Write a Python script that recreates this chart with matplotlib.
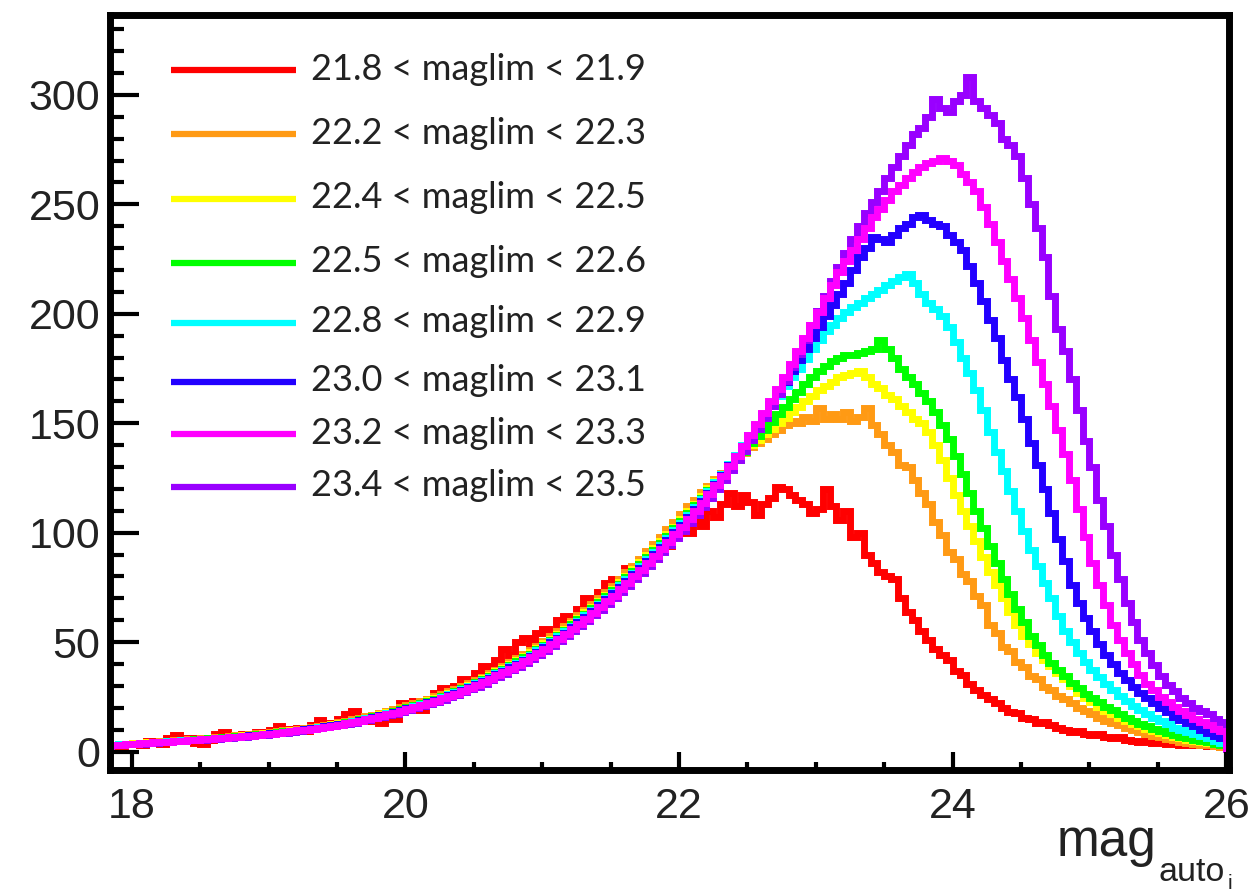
import numpy as np
import matplotlib
matplotlib.use("Agg")
import matplotlib.pyplot as plt
from matplotlib.lines import Line2D
from matplotlib.ticker import MultipleLocator

# ---------------- data ----------------
BIN_LO, BIN_HI = 17.85, 26.0
N_BINS = 163
edges = np.linspace(BIN_LO, BIN_HI, N_BINS + 1)

labels = ["21.8 < maglim < 21.9", "22.2 < maglim < 22.3", "22.4 < maglim < 22.5",
          "22.5 < maglim < 22.6", "22.8 < maglim < 22.9", "23.0 < maglim < 23.1",
          "23.2 < maglim < 23.3", "23.4 < maglim < 23.5"]

red = [3, 2.5, 3.5, 4, 3, 5, 4, 3.5, 6, 7.5,
       5, 6, 4, 3.5, 5.5, 8, 9, 7, 6.5, 8,
       7, 9, 8.5, 10, 11.5, 9, 10.5, 11, 9.5, 12,
       14.5, 12, 13, 15, 17, 18.5, 15, 14, 16.5, 13,
       18, 15, 22, 20, 23, 19, 24, 27, 29, 26,
       30, 33, 31, 36, 39, 37, 42, 47, 44, 50,
       52, 49, 54, 56, 53, 60, 62, 59, 65, 70,
       68, 73, 77, 79, 76, 84, 81, 87, 91, 88,
       97, 94, 99, 102, 100, 106, 103, 110, 107, 113,
       118, 112, 117, 114, 108, 113, 116, 121, 120, 117,
       115, 113, 109, 111, 120, 112, 106, 110, 98, 100,
       90, 86, 82, 80, 79, 70, 64, 60, 55, 51,
       47, 44, 42, 37, 35, 31, 28, 26, 24, 22,
       20, 18, 17.5, 15.5, 15, 13, 13.5, 12, 11, 10,
       9, 9.5, 8, 7.5, 8, 6.5, 6, 6.5, 5.5, 5,
       4.5, 5, 4, 4.2, 3.5, 3.8, 3.2, 3.5, 3, 2.8,
       2.6, 2.5, 2.3]

orange = [3.2, 3.4, 3.6, 3.9, 4.1, 4.3, 4.5, 4.8, 5.0, 5.2,
          5.4, 5.6, 5.9, 6.1, 6.4, 6.6, 6.9, 7.1, 7.4, 7.7,
          8.0, 8.3, 8.6, 8.9, 9.3, 9.7, 10.1, 10.5, 10.9, 11.4,
          11.8, 12.3, 12.8, 13.4, 14.0, 14.7, 15.4, 16.1, 16.9, 17.7,
          18.5, 19.3, 20.2, 21.1, 22.1, 23.1, 24.1, 25.2, 26.3, 27.5,
          28.7, 30.0, 31.4, 32.8, 34.3, 35.9, 37.5, 39.2, 40.9, 42.7,
          44.5, 46.4, 48.4, 50.5, 52.7, 55.0, 57.4, 59.8, 62.3, 64.8,
          67.4, 70.1, 72.9, 75.8, 78.8, 81.9, 85.0, 88.2, 91.5, 94.8,
          98.1, 101.5, 105.0, 108.5, 112.0, 115.0, 118.5, 121.5, 124.5, 127.5,
          130, 133.5, 136.5, 139, 141, 143, 145, 147, 149, 151,
          150, 153, 151, 157, 152, 154, 152, 155, 151, 153,
          157, 149, 145, 140, 137, 131, 130, 124, 118, 113,
          105, 99, 91, 88, 81, 78, 71, 67, 58, 54,
          48, 46, 41, 38.5, 34.5, 33, 29.5, 28, 25.5, 24,
          22, 20, 18.5, 17, 15.5, 14, 13, 12, 11, 10,
          9, 8, 7.2, 6.5, 5.8, 5.2, 4.6, 4.1, 3.6, 3.2,
          2.8, 2.5, 2.2]

yellow = [3.1, 3.3, 3.5, 3.8, 4.0, 4.2, 4.4, 4.6, 4.8, 5.0,
          5.2, 5.4, 5.7, 5.9, 6.1, 6.3, 6.6, 6.8, 7.1, 7.4,
          7.7, 8.0, 8.3, 8.6, 8.9, 9.3, 9.7, 10.1, 10.5, 11.0,
          11.4, 11.9, 12.4, 12.9, 13.5, 14.1, 14.8, 15.5, 16.3, 17.1,
          17.9, 18.7, 19.6, 20.5, 21.4, 22.4, 23.4, 24.4, 25.5, 26.7,
          27.9, 29.2, 30.5, 31.9, 33.4, 35.0, 36.6, 38.2, 39.9, 41.7,
          43.5, 45.3, 47.3, 49.4, 51.6, 53.9, 56.2, 58.6, 61.1, 63.6,
          66.2, 68.9, 71.7, 74.5, 77.4, 80.4, 83.4, 86.5, 89.7, 92.9,
          96.1, 99.4, 102.8, 106.2, 109.7, 113.2, 116.7, 120.2, 123.6, 126.8,
          129.5, 133.5, 137, 140, 142.5, 145, 147.5, 150, 152.5, 155,
          157.5, 160, 162.5, 165, 167, 169, 171, 172, 173, 174,
          171, 168, 166, 163, 161, 158, 155, 152, 150, 146,
          140, 133, 125, 117, 110, 103, 96, 89, 82, 76,
          70, 64, 58, 53, 49, 45, 42, 39, 36, 33,
          30, 27, 24.5, 22.5, 20.5, 18.5, 17, 15.5, 14, 12.5,
          11.5, 10.5, 9.5, 8.5, 7.6, 6.8, 6.1, 5.4, 4.8, 4.3,
          3.8, 3.3, 2.8]

green = [3.1, 3.3, 3.5, 3.7, 3.9, 4.1, 4.3, 4.5, 4.8, 5.0,
         5.2, 5.4, 5.6, 5.8, 6.0, 6.2, 6.5, 6.7, 7.0, 7.3,
         7.6, 7.9, 8.2, 8.5, 8.8, 9.2, 9.6, 10.0, 10.4, 10.8,
         11.3, 11.7, 12.2, 12.8, 13.4, 14.0, 14.7, 15.4, 16.1, 16.9,
         17.7, 18.5, 19.4, 20.3, 21.2, 22.1, 23.1, 24.1, 25.2, 26.4,
         27.6, 28.9, 30.2, 31.6, 33.1, 34.6, 36.2, 37.8, 39.5, 41.2,
         43.0, 44.8, 46.8, 48.9, 51.1, 53.4, 55.7, 58.1, 60.5, 63.0,
         65.6, 68.3, 71.0, 73.8, 76.7, 79.7, 82.7, 85.8, 88.9, 92.1,
         95.3, 98.6, 102.0, 105.4, 108.9, 112.5, 116.0, 119.5, 123.0, 126.5,
         129.5, 133, 137, 141, 144, 147, 150.5, 154, 157.5, 161,
         164.5, 168, 171, 174, 176, 178.5, 180, 181, 181, 182,
         183, 184, 188, 184, 180, 175, 171, 168, 164, 160,
         155, 149, 143, 135, 127, 118, 110, 102, 94, 86,
         79, 72, 65, 59, 53, 48.5, 44, 40.5, 37.5, 34.5,
         31.5, 29, 26.5, 24.5, 22.5, 20.5, 19, 17, 15.5, 14,
         12.5, 11.5, 10.5, 9.5, 8.5, 7.5, 6.8, 6.0, 5.4, 4.8,
         4.2, 3.6, 3.0]

cyan = [3.1, 3.3, 3.5, 3.7, 3.9, 4.1, 4.3, 4.5, 4.7, 4.9,
        5.1, 5.3, 5.5, 5.7, 5.9, 6.2, 6.4, 6.7, 6.9, 7.2,
        7.5, 7.8, 8.1, 8.4, 8.7, 9.1, 9.5, 9.9, 10.3, 10.7,
        11.1, 11.6, 12.1, 12.6, 13.2, 13.8, 14.5, 15.2, 15.9, 16.7,
        17.5, 18.3, 19.1, 20.0, 20.9, 21.8, 22.8, 23.8, 24.9, 26.1,
        27.3, 28.5, 29.8, 31.2, 32.7, 34.2, 35.7, 37.3, 39.0, 40.7,
        42.4, 44.2, 46.2, 48.3, 50.5, 52.7, 55.0, 57.4, 59.8, 62.3,
        64.9, 67.5, 70.2, 73.0, 75.9, 78.8, 81.8, 84.9, 88.0, 91.2,
        94.4, 97.7, 101.1, 104.5, 108.0, 111.6, 115.3, 119.1, 123.0, 127.0,
        131.2, 135.5, 140, 144.5, 149, 153.5, 158, 162.5, 167, 171,
        175, 179.5, 184, 188, 192, 195, 198, 201, 203, 205,
        207, 209, 211, 213, 215, 217, 218, 214, 209, 205,
        202, 199, 194, 187, 180, 173, 165, 156, 146, 137,
        128, 119, 110, 101, 92, 85, 77, 70, 62, 55,
        50, 45, 41, 37.5, 34, 31, 28, 25.5, 23, 21,
        19, 17, 15.5, 14, 12.5, 11, 10, 9, 8, 7,
        6, 5, 4]

blue = [3.0, 3.2, 3.4, 3.6, 3.8, 4.0, 4.2, 4.4, 4.6, 4.8,
        5.0, 5.2, 5.4, 5.6, 5.8, 6.1, 6.3, 6.6, 6.8, 7.1,
        7.4, 7.7, 8.0, 8.3, 8.6, 9.0, 9.4, 9.8, 10.2, 10.6,
        11.0, 11.5, 12.0, 12.5, 13.1, 13.7, 14.3, 15.0, 15.7, 16.5,
        17.3, 18.1, 18.9, 19.7, 20.6, 21.5, 22.5, 23.5, 24.6, 25.8,
        27.0, 28.2, 29.5, 30.9, 32.3, 33.8, 35.3, 36.9, 38.5, 40.2,
        41.9, 43.7, 45.7, 47.7, 49.9, 52.1, 54.4, 56.8, 59.2, 61.7,
        64.2, 66.8, 69.5, 72.3, 75.1, 78.0, 81.0, 84.0, 87.1, 90.3,
        93.5, 96.8, 100.2, 103.6, 107.1, 110.7, 114.4, 118.3, 122.4, 126.5,
        130.8, 135.2, 139.6, 144.2, 149, 154, 159, 164, 169, 174,
        179, 184, 189, 194, 199, 204, 209, 214, 220, 226,
        230, 235, 234, 233, 236, 239, 241, 244, 245, 243,
        241, 240, 236, 233, 229, 222, 214, 206, 197, 189,
        179, 170, 162, 152, 141, 131, 120, 109, 97, 87,
        76, 68, 61, 55, 49, 44, 40, 36, 32.5, 29.5,
        27, 24.5, 22, 20, 18, 16, 14.5, 13, 11.5, 10,
        8.5, 7, 6]

magenta = [3.0, 3.2, 3.4, 3.6, 3.8, 4.0, 4.2, 4.4, 4.6, 4.8,
           5.0, 5.2, 5.4, 5.6, 5.8, 6.0, 6.3, 6.5, 6.8, 7.0,
           7.3, 7.6, 7.9, 8.2, 8.5, 8.9, 9.3, 9.7, 10.1, 10.5,
           10.9, 11.3, 11.8, 12.3, 12.9, 13.5, 14.1, 14.8, 15.5, 16.3,
           17.0, 17.8, 18.6, 19.4, 20.3, 21.2, 22.2, 23.2, 24.3, 25.4,
           26.5, 27.7, 29.0, 30.4, 31.8, 33.3, 34.8, 36.3, 37.9, 39.6,
           41.2, 43.0, 45.0, 47.0, 49.2, 51.4, 53.6, 56.0, 58.4, 60.8,
           63.3, 65.9, 68.6, 71.3, 74.1, 77.0, 80.0, 83.0, 86.0, 89.3,
           92.5, 95.8, 99.2, 102.6, 106.2, 109.8, 113.5, 117.5, 121.8, 126.0,
           130.5, 135.0, 139.5, 144.5, 149.5, 154.5, 160.0, 165.5, 171.0, 177.0,
           183, 189, 195, 201, 207, 213, 219, 224, 229, 234,
           239, 244, 248, 252, 256, 259, 262, 265, 267, 269,
           270, 271, 270, 268, 264, 260, 256, 249, 241, 233,
           224, 216, 207, 198, 188, 178, 168, 158, 147, 136,
           124, 111, 98, 86, 76, 67, 58, 51, 45, 40,
           35, 31, 28, 25, 22.5, 20.5, 18.5, 16.5, 15, 13.5,
           12, 10.5, 9.5]

purple = [2.9, 3.1, 3.3, 3.5, 3.7, 3.9, 4.1, 4.3, 4.5, 4.7,
          4.9, 5.1, 5.3, 5.5, 5.7, 5.9, 6.1, 6.4, 6.6, 6.9,
          7.1, 7.4, 7.7, 8.0, 8.3, 8.7, 9.1, 9.5, 9.9, 10.3,
          10.7, 11.1, 11.6, 12.1, 12.6, 13.2, 13.8, 14.5, 15.2, 15.9,
          16.6, 17.4, 18.2, 19.0, 19.9, 20.8, 21.7, 22.7, 23.8, 24.9,
          26.0, 27.1, 28.4, 29.7, 31.1, 32.6, 34.1, 35.6, 37.2, 38.8,
          40.4, 42.2, 44.1, 46.1, 48.2, 50.4, 52.6, 54.9, 57.3, 59.7,
          62.2, 64.7, 67.4, 70.1, 72.9, 75.8, 78.7, 81.7, 84.7, 87.9,
          91.0, 94.3, 97.6, 101.0, 104.5, 108.1, 111.8, 115.7, 119.9, 124.1,
          128.5, 133, 137.5, 142.5, 147.5, 152.5, 158, 163.5, 169.5, 175.5,
          181.5, 188, 195, 201.5, 208, 215, 221.5, 228, 234, 240,
          246, 251, 256, 262, 267, 272, 277, 282, 285, 290,
          298, 294, 292, 297, 300, 308, 297, 294, 291, 287,
          280, 277, 272, 262, 250, 239, 226, 208, 193, 183,
          170, 156, 142, 130, 115, 103, 90, 79, 68, 59,
          51, 45, 39.5, 34.5, 30.5, 27.5, 24.5, 22, 20, 18.5,
          17, 15, 13.5]

series = [red, orange, yellow, green, cyan, blue, purple, magenta]
colors = ["#ff0000", "#ff9a14", "#ffff00", "#00ff00", "#00ffff", "#2200ff", "#9900ff", "#ff00ff"]
legend_colors = ["#ff0000", "#ff9a14", "#ffff00", "#00ff00", "#00ffff", "#2200ff", "#ff00ff", "#9900ff"]

# ---------------- figure ----------------
W, H = 1250, 891
fig = plt.figure(figsize=(W / 100, H / 100), dpi=100)
ax = fig.add_axes([110 / W, 1 - 770 / H, (1229 - 110) / W, (770 - 15) / H])

for vals, col in zip(series, colors):
    ax.stairs(vals, edges, baseline=0, color=col, lw=5, joinstyle="miter")

ax.set_xlim(17.84, 26.02)
ax.set_ylim(-8.4, 336.5)

for s in ax.spines.values():
    s.set_linewidth(5)
    s.set_color("black")

ax.xaxis.set_major_locator(MultipleLocator(2))
ax.xaxis.set_minor_locator(MultipleLocator(0.5))
ax.yaxis.set_major_locator(MultipleLocator(50))
ax.yaxis.set_minor_locator(MultipleLocator(10))
ax.tick_params(which="both", direction="in", top=False, right=False, width=3, colors="black")
ax.xaxis.set_tick_params(which="major", length=13, pad=12)
ax.xaxis.set_tick_params(which="minor", length=6)
ax.yaxis.set_tick_params(which="major", length=21, pad=7)
ax.yaxis.set_tick_params(which="minor", length=10)
for lab in ax.get_xticklabels() + ax.get_yticklabels():
    lab.set_fontfamily("Liberation Sans")
    lab.set_fontsize(31)
    lab.set_color("#222222")

# legend (manual layout)
leg_y = [70, 134, 199, 263, 323, 382, 434, 487]
for yy, col, lab in zip(leg_y, legend_colors, labels):
    fig.add_artist(Line2D([171 / W, 296 / W], [1 - yy / H, 1 - yy / H],
                          color=col, lw=4.5, solid_capstyle="butt"))
    fig.text(311 / W, 1 - (yy - 1) / H, lab, fontsize=26, family="Lato",
             color="#222222", ha="left", va="center")

# axis title: mag_{auto_i}
fig.text(1057 / W, 1 - 856 / H, "mag", fontsize=37, family="Liberation Sans",
         color="#222222", ha="left", va="baseline")
fig.text(1159 / W, 1 - 881 / H, "auto", fontsize=24.5, family="Liberation Sans",
         color="#222222", ha="left", va="baseline")
fig.text(1228 / W, 1 - 889 / H, "i", fontsize=15, family="Liberation Sans",
         color="#222222", ha="left", va="baseline")

fig.savefig("out.png", dpi=100)
